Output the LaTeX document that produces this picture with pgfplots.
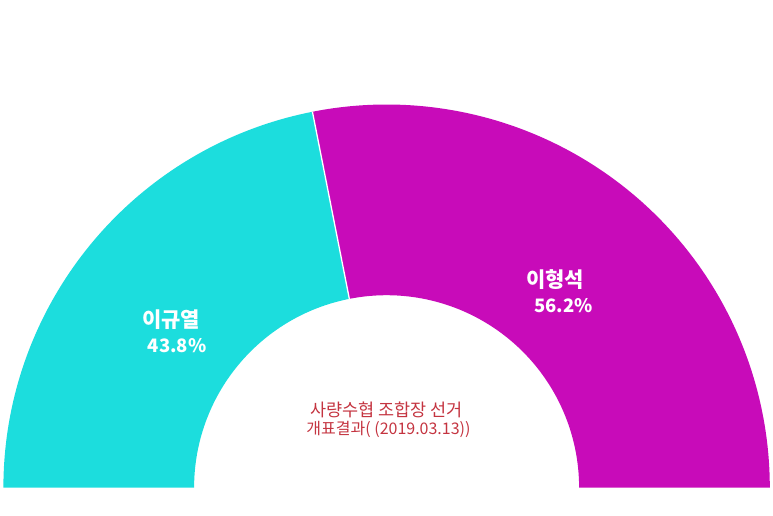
\documentclass[border=0pt]{standalone}
\usepackage{fontspec}
\setmainfont{Noto Sans CJK KR}
\usepackage{pgfplots}
\usepackage{pgfplotstable}
\pgfplotsset{compat=1.18}
\definecolor{cyanA}{RGB}{28,221,221}
\definecolor{magA}{RGB}{200,11,185}
\definecolor{txtred}{RGB}{196,52,64}
\pgfplotstableread{
name value
A 43.8
B 56.2
}\votes
\begin{document}
\begin{tikzpicture}
\begin{axis}[
  scale only axis, hide axis, clip=false,
  width=773pt, height=515pt,
  xmin=0, xmax=773, ymin=0, ymax=515,
]
\path (rel axis cs:0,0) rectangle (rel axis cs:1,1);
\pgfplotstablegetelem{0}{value}\of\votes \let\va\pgfplotsretval
\pgfplotstablegetelem{1}{value}\of\votes \let\vb\pgfplotsretval
\pgfmathsetmacro{\cx}{386.6}
\pgfmathsetmacro{\cy}{27.3}
\pgfmathsetmacro{\Ro}{383.2}
\pgfmathsetmacro{\Ri}{192.5}
\pgfmathsetmacro{\am}{180-180*\va/(\va+\vb)}
% slice A
\fill[cyanA] (axis cs:{\cx-\Ro},\cy) arc[start angle=180, end angle=\am, radius=\Ro pt]
  -- (axis cs:{\cx+\Ri*cos(\am)},{\cy+\Ri*sin(\am)}) arc[start angle=\am, end angle=180, radius=\Ri pt] -- cycle;
% slice B
\fill[magA] (axis cs:{\cx+\Ro*cos(\am)},{\cy+\Ro*sin(\am)}) arc[start angle=\am, end angle=0, radius=\Ro pt]
  -- (axis cs:{\cx+\Ri},\cy) arc[start angle=0, end angle=\am, radius=\Ri pt] -- cycle;
\draw[white, line width=1.3pt] (axis cs:{\cx+\Ri*cos(\am)},{\cy+\Ri*sin(\am)}) -- (axis cs:{\cx+\Ro*cos(\am)},{\cy+\Ro*sin(\am)});
% labels
\node[white, font=\fontsize{21}{25}\selectfont\bfseries] at (axis cs:171,{515-320}) {이규열};
\node[white, font=\fontsize{18.5}{25}\selectfont\bfseries] at (axis cs:177,{515-345.5}) {43.8\%};
\node[white, font=\fontsize{21}{25}\selectfont\bfseries] at (axis cs:555,{515-280}) {이형석};
\node[white, font=\fontsize{18.5}{25}\selectfont\bfseries] at (axis cs:563.5,{515-306}) {56.2\%};
\node[txtred, font=\fontsize{17.5}{20}\selectfont] at (axis cs:386.5,{515-410}) {사량수협 조합장 선거};
\node[txtred, font=\fontsize{16}{20}\selectfont] at (axis cs:388.5,{515-429.5}) {개표결과( (2019.03.13))};
\end{axis}
\end{tikzpicture}
\end{document}
